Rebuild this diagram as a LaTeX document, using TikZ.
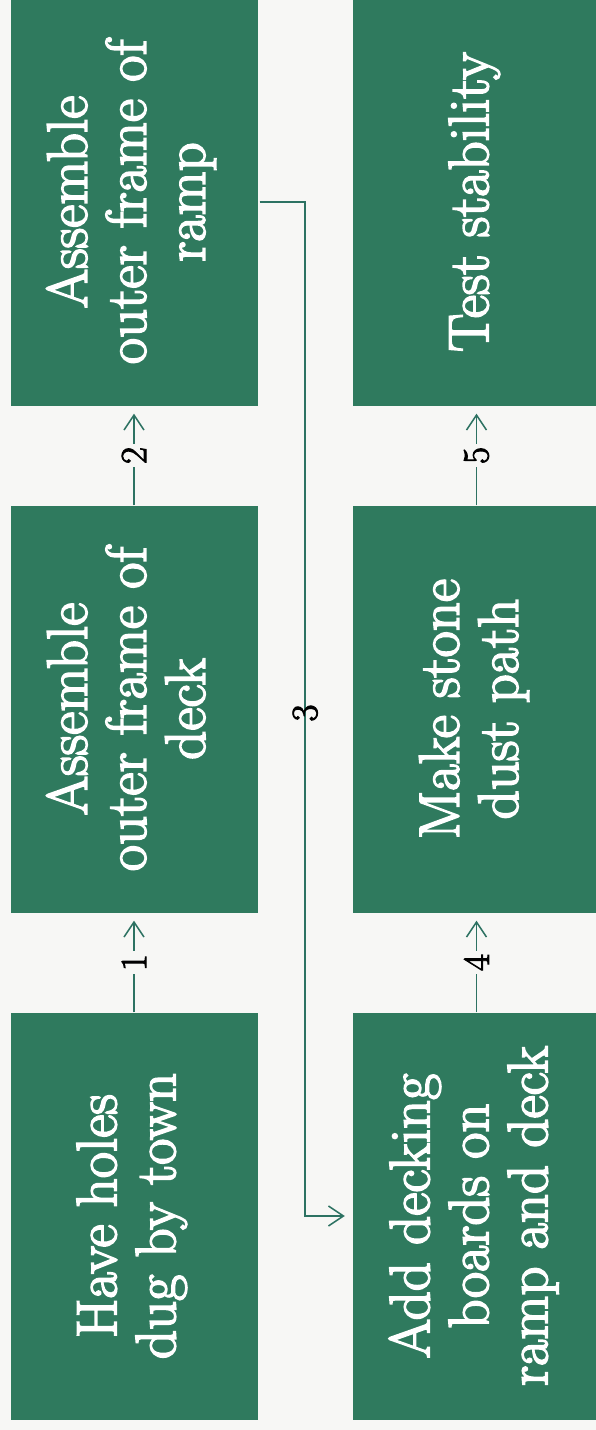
\documentclass[tikz,border=0pt]{standalone}
\usepackage{graphicx}
\usepackage{fontspec}
\newfontface\heavyserif{Latin Modern Roman}[FakeBold=3]
\newfontface\heavydigits{Latin Modern Roman}[FakeBold=2.5]
\usetikzlibrary{arrows.meta}
\definecolor{boxgreen}{HTML}{2F7A5E}
\definecolor{linegreen}{HTML}{2D7262}
\definecolor{bgpaper}{HTML}{F7F7F5}
\newcommand{\boxtext}[1]{\rotatebox{90}{\begin{tabular}{@{}c@{}}#1\end{tabular}}}
\begin{document}
\begin{tikzpicture}[x=1pt,y=-1pt,
  stepbox/.style={draw=none, fill=boxgreen, minimum width=247pt, minimum height=407pt,
    inner sep=0pt, text=white, font=\heavyserif\fontsize{57}{59}\selectfont},
  numlbl/.style={fill=bgpaper, inner sep=3pt, font=\heavydigits\fontsize{37}{37}\selectfont, rotate=90, text=black},
  numlblplain/.style={inner sep=0pt, font=\heavydigits\fontsize{37}{37}\selectfont, rotate=90, text=black},
  flow/.style={draw=linegreen, line width=1.5pt, -{Straight Barb[length=15pt,width=20pt]}, shorten >=8pt}]
\fill[bgpaper] (0,0) rectangle (596,1430);
\useasboundingbox (0,0) rectangle (596,1430);
% left column
\node[stepbox] (b1) at (134,1216) {\boxtext{Have holes\\dug by town}};
\node[stepbox] (b2) at (134,709) {\boxtext{Assemble\\outer frame of\\deck}};
\node[stepbox] (b3) at (134,202) {\boxtext{Assemble\\outer frame of\\ramp}};
% right column
\node[stepbox] (b4) at (476.5,1216) {\boxtext{Add decking\\boards on\\ramp and deck}};
\node[stepbox] (b5) at (476.5,709) {\boxtext{Make stone\\dust path}};
\node[stepbox] (b6) at (476.5,202) {\boxtext{Test stability}};
% connectors
\draw[flow] (b1.north) -- node[numlbl]{1} (b2.south);
\draw[flow] (b2.north) -- node[numlbl]{2} (b3.south);
\draw[flow, shorten <=2pt] (b3.east) -- ++(47.5,0) |- node[numlblplain, pos=0.25, xshift=-4pt]{3} (b4.west);
\draw[flow] (b4.north) -- node[numlbl]{4} (b5.south);
\draw[flow] (b5.north) -- node[numlbl]{5} (b6.south);
\end{tikzpicture}
\end{document}
